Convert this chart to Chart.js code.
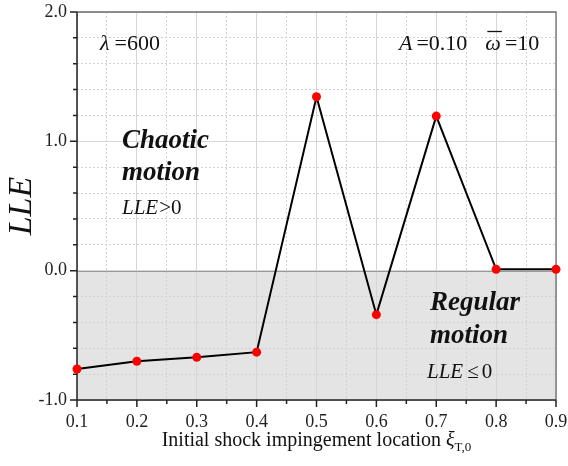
<!DOCTYPE html>
<html>
<head>
<meta charset="utf-8">
<title>LLE vs initial shock impingement location</title>
<script src="https://cdn.jsdelivr.net/npm/chart.js@4.4.1/dist/chart.umd.min.js"></script>
<style>
  html, body { margin: 0; padding: 0; background: #fff; }
  #wrap { width: 568px; height: 466px; }
</style>
</head>
<body>
<div id="wrap"><canvas id="lleChart"></canvas></div>
<script>
// largest Lyapunov exponent against shock impingement location
const locations = [0.1, 0.2, 0.3, 0.4, 0.5, 0.6, 0.7, 0.8, 0.9];
const lleValues = [-0.76, -0.70, -0.67, -0.63, 1.345, -0.34, 1.195, 0.01, 0.01];

// labelled ticks
const xMajorTicks = [0.1, 0.2, 0.3, 0.4, 0.5, 0.6, 0.7, 0.8, 0.9];
const yMajorTicks = [-1.0, 0.0, 1.0, 2.0];
// unlabelled ticks
const xMinorTicks = [0.15, 0.25, 0.35, 0.45, 0.55, 0.65, 0.75, 0.85];
const yMinorTicks = [-0.8, -0.6, -0.4, -0.2, 0.2, 0.4, 0.6, 0.8, 1.2, 1.4, 1.6, 1.8];

const SERIF = '"Liberation Serif", "DejaVu Serif", serif';

function isIn(list, v) {
  return list.some(t => Math.abs(t - v) < 1e-6);
}

function setTicks(list, minor) {
  return function (scale) {
    scale.ticks = list.concat(minor).sort((a, b) => a - b).map(v => ({ value: v }));
  };
}

// draws a run of text pieces, each with its own font
function drawRuns(ctx, x, y, runs) {
  let cx = x;
  runs.forEach(r => {
    ctx.font = r.font;
    const dy = r.dy || 0;
    ctx.fillText(r.text, cx, y + dy);
    cx += ctx.measureText(r.text).width + (r.gap || 0);
  });
  return cx;
}

const framePlugin = {
  id: 'frame',
  beforeDraw(chart) {
    // regular region below zero
    const { ctx, chartArea: a, scales: { y } } = chart;
    const y0 = y.getPixelForValue(0);
    const y1 = y.getPixelForValue(-1);
    ctx.save();
    ctx.fillStyle = '#e4e4e4';
    ctx.fillRect(a.left, y0, a.right - a.left, y1 - y0);
    ctx.restore();
  },
  beforeDatasetsDraw(chart) {
    const { ctx, chartArea: a, scales: { x, y } } = chart;
    ctx.save();
    // zero line
    const y0 = Math.round(y.getPixelForValue(0)) + 0.5;
    ctx.strokeStyle = '#9a9a9a';
    ctx.lineWidth = 1.2;
    ctx.beginPath();
    ctx.moveTo(a.left, y0);
    ctx.lineTo(a.right, y0);
    ctx.stroke();

    // top and right frame
    ctx.strokeStyle = '#6e6e6e';
    ctx.lineWidth = 1.3;
    ctx.beginPath();
    ctx.moveTo(a.left, a.top);
    ctx.lineTo(a.right, a.top);
    ctx.lineTo(a.right, a.bottom);
    ctx.stroke();

    // left and bottom axes with outward ticks
    ctx.strokeStyle = '#222';
    ctx.lineWidth = 1.5;
    ctx.beginPath();
    ctx.moveTo(a.left, a.top);
    ctx.lineTo(a.left, a.bottom);
    ctx.lineTo(a.right, a.bottom);
    xMajorTicks.forEach(v => {
      const px = x.getPixelForValue(v);
      ctx.moveTo(px, a.bottom);
      ctx.lineTo(px, a.bottom + 7);
    });
    xMinorTicks.forEach(v => {
      const px = x.getPixelForValue(v);
      ctx.moveTo(px, a.bottom);
      ctx.lineTo(px, a.bottom + 4);
    });
    yMajorTicks.forEach(v => {
      const py = y.getPixelForValue(v);
      ctx.moveTo(a.left, py);
      ctx.lineTo(a.left - 7, py);
    });
    yMinorTicks.forEach(v => {
      const py = y.getPixelForValue(v);
      ctx.moveTo(a.left, py);
      ctx.lineTo(a.left - 4, py);
    });
    ctx.stroke();
    ctx.restore();
  },
  afterDraw(chart) {
    const { ctx, chartArea: a } = chart;
    ctx.save();
    ctx.fillStyle = '#111';
    ctx.textBaseline = 'alphabetic';
    ctx.textAlign = 'left';

    // x axis title with subscript
    const reg = '20px ' + SERIF;
    const ita = 'italic 20px ' + SERIF;
    const sub = '13px ' + SERIF;
    ctx.font = reg;
    const w1 = ctx.measureText('Initial shock impingement location ').width;
    ctx.font = ita;
    const w2 = ctx.measureText('\u03BE').width;
    ctx.font = sub;
    const w3 = ctx.measureText('T,0').width;
    const startX = (a.left + a.right) / 2 - (w1 + w2 + w3) / 2;
    drawRuns(ctx, startX, 446, [
      { text: 'Initial shock impingement location ', font: reg },
      { text: '\u03BE', font: ita },
      { text: 'T,0', font: sub, dy: 5 }
    ]);

    // parameters
    const pIta = 'italic 22px ' + SERIF;
    const pReg = '22px ' + SERIF;
    drawRuns(ctx, 100, 50, [
      { text: '\u03BB', font: pIta, gap: 5 },
      { text: '=600', font: pReg }
    ]);
    const endA = drawRuns(ctx, 399, 50, [
      { text: 'A', font: pIta, gap: 4 },
      { text: '=0.10', font: pReg, gap: 18 }
    ]);
    ctx.font = pIta;
    const wOm = ctx.measureText('\u03C9').width;
    drawRuns(ctx, endA, 50, [
      { text: '\u03C9', font: pIta, gap: 4 },
      { text: '=10', font: pReg }
    ]);
    ctx.strokeStyle = '#111';
    ctx.lineWidth = 1.3;
    ctx.beginPath();
    ctx.moveTo(endA + 2, 31.5);
    ctx.lineTo(endA + wOm + 1, 31.5);
    ctx.stroke();

    // region labels
    const bold = 'italic bold 27px ' + SERIF;
    const lle = 'italic 21px ' + SERIF;
    const lleReg = '21px ' + SERIF;
    drawRuns(ctx, 122, 148, [{ text: 'Chaotic', font: bold }]);
    drawRuns(ctx, 122, 180, [{ text: 'motion', font: bold }]);
    drawRuns(ctx, 122, 214, [
      { text: 'LLE', font: lle, gap: 1 },
      { text: '>0', font: lleReg }
    ]);
    drawRuns(ctx, 430, 310, [{ text: 'Regular', font: bold }]);
    drawRuns(ctx, 430, 343, [{ text: 'motion', font: bold }]);
    drawRuns(ctx, 427, 378, [
      { text: 'LLE', font: lle, gap: 4 },
      { text: '\u2264', font: lleReg, gap: 3 },
      { text: '0', font: lleReg }
    ]);
    ctx.restore();
  }
};

new Chart(document.getElementById('lleChart'), {
  type: 'scatter',
  data: {
    datasets: [{
      data: locations.map((v, i) => ({ x: v, y: lleValues[i] })),
      showLine: true,
      borderColor: '#000',
      borderWidth: 2,
      pointBackgroundColor: '#ff0000',
      pointBorderColor: '#ff0000',
      pointRadius: 4.5,
      pointBorderWidth: 0,
      tension: 0,
      clip: false
    }]
  },
  options: {
    responsive: true,
    maintainAspectRatio: false,
    animation: false,
    layout: { padding: { top: 12, right: 12, left: 0, bottom: 0 } },
    plugins: {
      legend: { display: false },
      tooltip: { enabled: false }
    },
    scales: {
      x: {
        type: 'linear',
        min: 0.1,
        max: 0.9,
        afterBuildTicks: setTicks(xMajorTicks, xMinorTicks),
        afterFit(scale) {
          scale.height = 66;
          scale.paddingLeft = 0;
          scale.paddingRight = 0;
        },
        border: {
          display: false,
          dash: ctx => isIn(xMajorTicks, ctx.tick.value) ? [] : [2, 2]
        },
        grid: {
          color: ctx => isIn(xMajorTicks, ctx.tick.value) ? '#d6d6d6' : '#d2d2d2',
          lineWidth: 1,
          drawTicks: true,
          tickLength: 7,
          tickColor: 'rgba(0,0,0,0)'
        },
        ticks: {
          padding: 4,
          color: '#222',
          font: { family: SERIF, size: 18 },
          maxRotation: 0,
          autoSkip: false,
          callback: v => isIn(xMajorTicks, v) ? v.toFixed(1) : ''
        }
      },
      y: {
        min: -1,
        max: 2,
        afterBuildTicks: setTicks(yMajorTicks, yMinorTicks),
        afterFit(scale) {
          scale.width = 77;
          scale.paddingTop = 0;
          scale.paddingBottom = 0;
        },
        border: {
          display: false,
          dash: ctx => isIn(yMajorTicks, ctx.tick.value) ? [] : [2, 2]
        },
        grid: {
          color: ctx => isIn(yMajorTicks, ctx.tick.value) ? '#d6d6d6' : '#d2d2d2',
          lineWidth: 1,
          drawTicks: true,
          tickLength: 7,
          tickColor: 'rgba(0,0,0,0)'
        },
        ticks: {
          padding: 3,
          color: '#222',
          font: { family: SERIF, size: 18 },
          autoSkip: false,
          callback: v => isIn(yMajorTicks, v) ? v.toFixed(1) : ''
        },
        title: {
          display: true,
          text: 'LLE',
          color: '#111',
          font: { family: SERIF, size: 34, style: 'italic' },
          padding: { top: 2, bottom: 0 }
        }
      }
    }
  },
  plugins: [framePlugin]
});
</script>
</body>
</html>
